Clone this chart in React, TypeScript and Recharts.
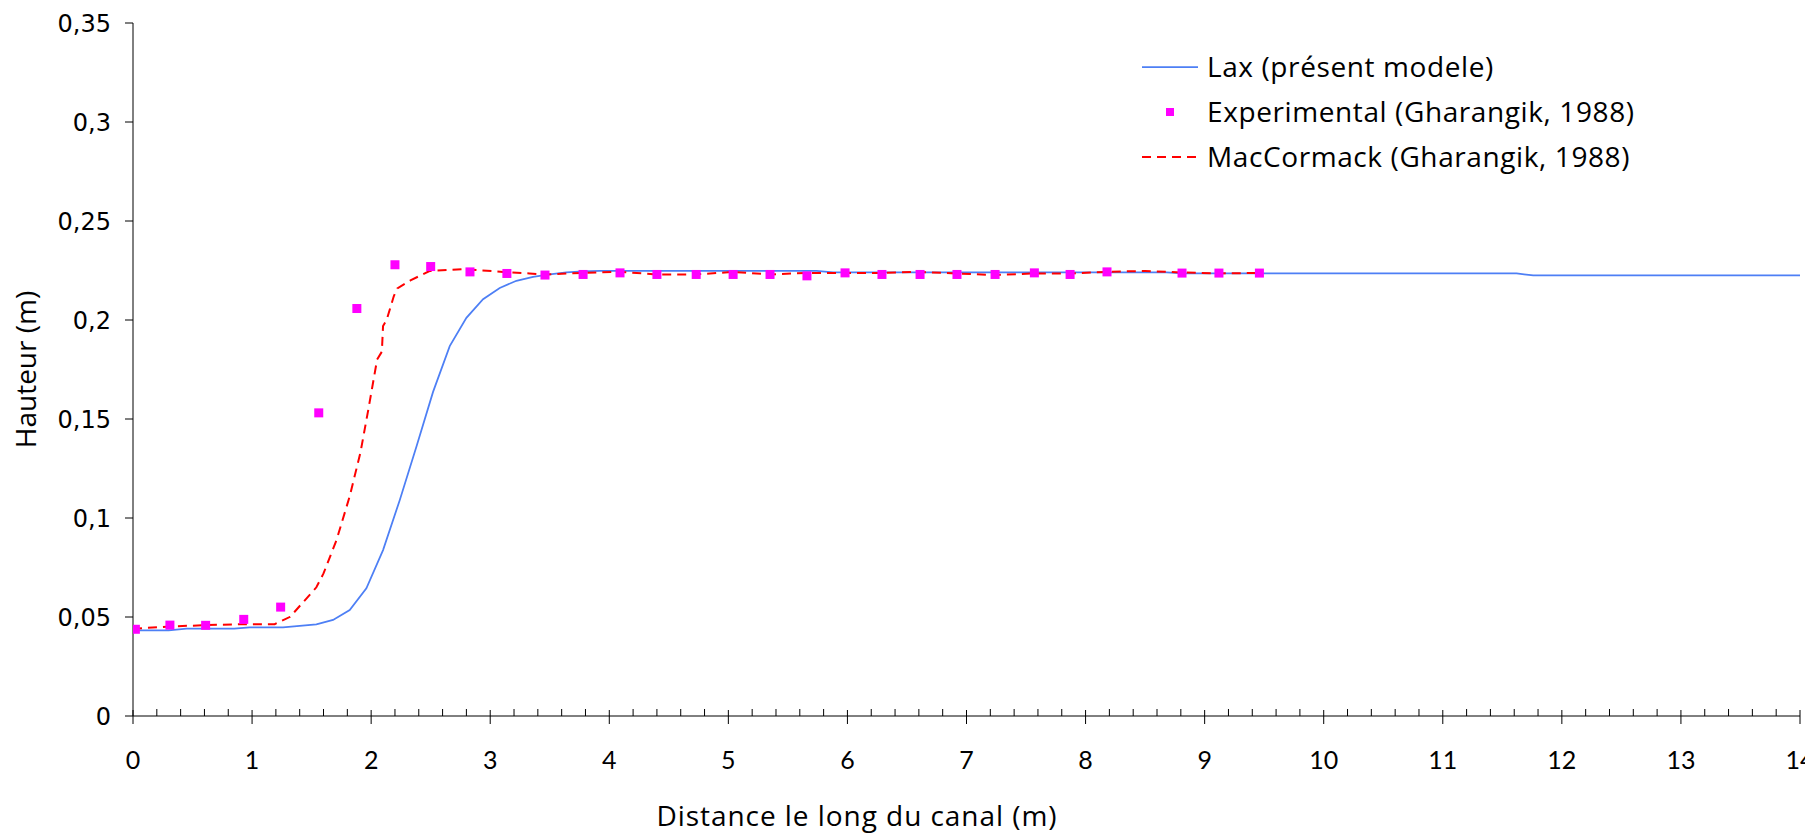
import React from 'react';
import { ComposedChart, Line, Scatter, XAxis, YAxis, Legend } from 'recharts';

// ---- Data ----
const laxX = [0, 0.3, 0.45, 0.85, 0.98, 1.26, 1.4, 1.54, 1.68, 1.82, 1.96, 2.1, 2.24, 2.38, 2.52, 2.66, 2.8, 2.94, 3.08, 3.22, 3.36, 3.5, 3.64, 3.78, 3.92, 5.74, 5.88, 8.68, 8.82, 11.62, 11.76, 14];
const laxY = [0.0433, 0.0433, 0.0441, 0.0441, 0.0448, 0.0448, 0.0455, 0.0463, 0.0485, 0.0535, 0.0645, 0.0838, 0.109, 0.136, 0.1637, 0.1868, 0.2011, 0.2105, 0.2162, 0.2198, 0.2218, 0.223, 0.224, 0.2245, 0.2248, 0.2248, 0.224, 0.224, 0.2235, 0.2235, 0.2225, 0.2225];

const expX = [0.02, 0.31, 0.61, 0.93, 1.24, 1.56, 1.88, 2.2, 2.5, 2.83, 3.14, 3.46, 3.78, 4.09, 4.4, 4.73, 5.04, 5.35, 5.66, 5.98, 6.29, 6.61, 6.92, 7.24, 7.57, 7.87, 8.18, 8.81, 9.12, 9.46];
const expY = [0.0438, 0.0459, 0.0458, 0.0488, 0.055, 0.1531, 0.2058, 0.2279, 0.227, 0.2243, 0.2235, 0.2227, 0.223, 0.2238, 0.223, 0.223, 0.223, 0.223, 0.2223, 0.2238, 0.223, 0.223, 0.223, 0.223, 0.2238, 0.223, 0.2243, 0.2237, 0.2237, 0.2237];

const macX = [0, 0.31, 0.62, 0.93, 1.19, 1.32, 1.54, 1.6, 1.71, 1.82, 1.91, 1.98, 2.05, 2.09, 2.1, 2.13, 2.19, 2.22, 2.33, 2.49, 2.77, 3.11, 3.33, 3.46, 3.78, 4.09, 4.4, 4.73, 5.04, 5.35, 5.66, 5.98, 6.29, 6.61, 6.92, 7.24, 7.57, 7.87, 8.18, 8.5, 8.81, 9.12, 9.46];
const macY = [0.0441, 0.0452, 0.0459, 0.0464, 0.0464, 0.0501, 0.065, 0.072, 0.089, 0.111, 0.133, 0.156, 0.18, 0.184, 0.197, 0.2, 0.212, 0.216, 0.22, 0.2247, 0.2257, 0.2243, 0.2235, 0.223, 0.2238, 0.2243, 0.223, 0.223, 0.2243, 0.223, 0.2238, 0.2238, 0.2238, 0.2243, 0.2235, 0.2227, 0.2235, 0.2235, 0.2243, 0.2248, 0.224, 0.2235, 0.2238];

const seriesNames = ['Lax (présent modele)', 'Experimental (Gharangik, 1988)', 'MacCormack (Gharangik, 1988)'];
const yTicks = [0, 0.05, 0.1, 0.15, 0.2, 0.25, 0.3, 0.35];
const yTickLabels = ['0', '0,05', '0,1', '0,15', '0,2', '0,25', '0,3', '0,35'];
const xMajorTicks = [0, 1, 2, 3, 4, 5, 6, 7, 8, 9, 10, 11, 12, 13, 14];
const xTitle = 'Distance le long du canal (m)';
const yTitle = 'Hauteur (m)';

const zip = (xs: number[], ys: number[]) => xs.map((x, i) => ({ x, y: ys[i] }));
const laxData = zip(laxX, laxY);
const expData = zip(expX, expY);
const macData = zip(macX, macY);

// minor ticks every 0.2 between majors
const xTicks: number[] = [];
xMajorTicks.forEach((m, i) => {
  xTicks.push(m);
  if (i < xMajorTicks.length - 1) {
    [0.2, 0.4, 0.6, 0.8].forEach((f) => xTicks.push(Math.round((m + f) * 10) / 10));
  }
});

// ---- Layout / styles ----
const W = 1805;
const H = 835;
const M_TOP = 23;
const M_RIGHT = 5;
const Y_AXIS_W = 133;
const X_AXIS_H = 119;
const PLOT_BOTTOM = H - X_AXIS_H;
const BLUE = '#4d7ff5';
const RED = '#ff0000';
const MAGENTA = '#ff00ff';
const TEXT_FONT = '"Open Sans", "Noto Sans", sans-serif';
const XTICK_FONT = 'Lato, "Open Sans", sans-serif';
const TICK_FONT = '"DejaVu Sans", Verdana, sans-serif';

const XTick = (props: any) => {
  const { x, y, payload } = props;
  const v = payload.value as number;
  const major = Math.abs(v - Math.round(v)) < 1e-6;
  return (
    <g>
      {major ? (
        <line x1={x} x2={x} y1={y - 6} y2={y + 8} stroke="#000" strokeWidth={1} />
      ) : (
        <line x1={x} x2={x} y1={y - 7} y2={y} stroke="#000" strokeWidth={1} />
      )}
      {major && (
        <text x={x} y={y + 53} textAnchor="middle" fontFamily={XTICK_FONT} fontSize={25} fill="#000">
          {String(Math.round(v))}
        </text>
      )}
    </g>
  );
};

const SquareDot = (props: any) => {
  const { cx, cy } = props;
  if (cx == null || cy == null) return null;
  return <rect x={cx - 4.5} y={cy - 4.5} width={9} height={9} fill={MAGENTA} />;
};

const LegendContent = () => {
  const row = (icon: React.ReactNode, label: string) => (
    <div style={{ display: 'flex', alignItems: 'center', height: 45 }}>
      <svg width={56} height={12} style={{ display: 'block' }}>{icon}</svg>
      <span
        style={{
          marginLeft: 9,
          fontFamily: TEXT_FONT,
          fontSize: 28,
          letterSpacing: 0.6,
          color: '#000',
          whiteSpace: 'nowrap',
          lineHeight: '45px',
        }}
      >
        {label}
      </span>
    </div>
  );
  return (
    <div>
      {row(<line x1={0} x2={56} y1={6} y2={6} stroke={BLUE} strokeWidth={1.75} />, seriesNames[0])}
      {row(<rect x={24} y={2} width={8} height={8} fill={MAGENTA} />, seriesNames[1])}
      {row(<line x1={0} x2={56} y1={6} y2={6} stroke={RED} strokeWidth={2} strokeDasharray="9 6" />, seriesNames[2])}
    </div>
  );
};

export default function App() {
  const yMid = (M_TOP + PLOT_BOTTOM) / 2;
  return (
    <div style={{ position: 'absolute', left: 0, top: 0, width: W, height: H, background: '#fff' }}>
      <ComposedChart width={W} height={H} margin={{ top: M_TOP, right: M_RIGHT, bottom: 0, left: 0 }}>
        <XAxis
          type="number"
          dataKey="x"
          domain={[0, 14]}
          ticks={xTicks}
          interval={0}
          allowDataOverflow
          tickLine={false}
          tickSize={0}
          tickMargin={0}
          tick={(p: any) => <XTick {...p} />}
          axisLine={{ stroke: '#000', strokeWidth: 1 }}
          height={X_AXIS_H}
          label={() => (
            <text x={857} y={H - 9} textAnchor="middle" fontFamily={TEXT_FONT} fontSize={28} letterSpacing={0.95} fill="#000">
              {xTitle}
            </text>
          )}
        />
        <YAxis
          type="number"
          dataKey="y"
          domain={[0, 0.35]}
          ticks={yTicks}
          interval={0}
          width={Y_AXIS_W}
          tickSize={8}
          tickMargin={14}
          tickLine={{ stroke: '#000' }}
          axisLine={{ stroke: '#000', strokeWidth: 1 }}
          tickFormatter={(v: number) => yTickLabels[yTicks.indexOf(v)] ?? String(v).replace('.', ',')}
          tick={{ fontFamily: TICK_FONT, fontSize: 24, fill: '#000' }}
          label={() => (
            <text
              x={24.5}
              y={yMid}
              transform={`rotate(-90 24.5 ${yMid})`}
              textAnchor="middle"
              dominantBaseline="central"
              fontFamily={TEXT_FONT}
              fontSize={28}
              fill="#000"
            >
              {yTitle}
            </text>
          )}
        />
        <Legend
          layout="vertical"
          align="center"
          verticalAlign="middle"
          content={() => <LegendContent />}
          wrapperStyle={{ left: 1142, top: 44, width: 'auto', height: 'auto' }}
        />
        <Line
          data={laxData}
          dataKey="y"
          name={seriesNames[0]}
          type="linear"
          stroke={BLUE}
          strokeWidth={1.75}
          dot={false}
          activeDot={false}
          isAnimationActive={false}
        />
        <Scatter
          data={expData}
          dataKey="y"
          name={seriesNames[1]}
          fill={MAGENTA}
          shape={(p: any) => <SquareDot {...p} />}
          isAnimationActive={false}
        />
        <Line
          data={macData}
          dataKey="y"
          name={seriesNames[2]}
          type="linear"
          stroke={RED}
          strokeWidth={2}
          strokeDasharray="9 6"
          dot={false}
          activeDot={false}
          isAnimationActive={false}
        />
      </ComposedChart>
    </div>
  );
}
